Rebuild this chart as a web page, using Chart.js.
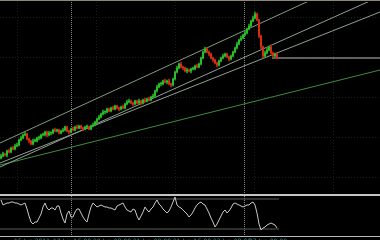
<!DOCTYPE html>
<html>
<head>
<meta charset="utf-8">
<script src="https://cdn.jsdelivr.net/npm/chart.js@4/dist/chart.umd.min.js"></script>
<style>
html,body{margin:0;padding:0;background:#000;width:380px;height:240px;overflow:hidden;}
#wrap{position:relative;width:380px;height:240px;background:#000;}
canvas{position:absolute;left:0;}
#main{top:2px;}
#ind{top:196px;}
.rule{position:absolute;left:0;width:380px;}
</style>
</head>
<body>
<div id="wrap">
  <div class="rule" style="top:0;height:1px;background:#8c8878;"></div>
  <canvas id="main" width="380" height="192"></canvas>
  <div class="rule" style="top:194px;height:2px;background:#c4c4c4;"></div>
  <canvas id="ind" width="380" height="44"></canvas>
</div>
<script>
// ---- data ----
const firstOpen = 36;
const closePrices = [
 38,40,39,43,42,46,45,48,49,54,56,59,60,55,53,50,53,53,56,56,
 59,59,62,59,61,61,64,63,64,61,63,64,67,63,62,65,64,67,66,68,
 66,65,67,67,65,68,69,72,75,77,80,82,82,85,83,86,85,88,86,85,
 87,86,90,92,93,91,90,93,91,93,91,94,93,95,94,97,98,103,107,110,
 110,113,112,113,110,109,115,122,126,130,127,126,123,124,123,125,125,128,127,130,
 136,142,145,142,140,136,134,131,129,133,136,138,140,137,135,138,142,146,150,154,
 156,159,161,165,168,173,176,180,174,158,147,138,141,144,147,141,138,140,136
];
const highPrices = [
 40,42,41,44,45,47,48,50,51,55,58,60,62,61,56,54,55,55,57,58,
 60,61,63,63,63,62,65,66,65,65,64,66,68,68,64,66,67,68,69,69,
 69,67,68,69,68,69,71,73,76,79,81,84,83,86,86,87,88,89,89,87,
 88,89,91,94,95,94,92,94,94,95,94,95,96,96,97,98,100,104,109,111,
 112,114,115,114,115,111,116,123,128,131,132,128,127,126,125,126,127,129,130,131,
 137,143,147,146,143,141,137,135,132,134,137,140,141,141,138,139,143,147,152,155,
 158,160,163,166,170,174,178,182,181,175,159,148,143,146,148,149,142,141,141
];
const lowPrices = [
 35,37,38,37,41,41,44,44,47,48,53,55,58,54,51,49,49,52,52,54,
 55,58,58,57,58,59,60,62,62,60,60,62,63,62,60,61,63,63,65,65,
 65,63,64,66,64,64,67,68,71,74,76,79,80,81,82,82,84,84,85,83,
 84,85,85,89,91,90,88,89,90,90,89,90,92,92,93,93,96,97,102,106,
 108,109,111,110,109,107,108,114,121,125,126,124,122,121,122,121,124,124,126,126,
 129,135,141,141,138,135,132,130,127,128,132,135,137,136,133,134,137,141,145,149,
 153,155,158,160,164,167,172,175,173,156,145,136,137,140,143,140,137,137,135
];
const oscValues = [
 78,68,70,72,72,74,74,72,72,70,68,70,72,60,46,34,30,34,34,42,
 50,64,72,62,58,62,62,58,66,66,52,40,32,50,56,44,44,54,60,60,
 52,44,38,34,50,64,72,68,64,66,68,66,64,64,62,62,60,58,66,68,
 70,72,64,58,56,54,60,58,46,38,46,54,64,58,54,60,64,72,78,70,
 66,60,56,52,56,64,74,84,68,64,62,58,54,50,44,48,54,62,68,72,
 74,70,68,60,52,42,34,24,30,38,46,54,58,52,56,62,70,72,70,68,
 66,64,66,68,68,72,74,68,52,30,18,22,24,28,30,32,30,28,22
];
const oscLevels = [80, 20];
const lastPrice = 136;
const trendUpper  = [[-0.5, 51], [155, 194]];
const trendMidA   = [[-0.5, 27], [185.5, 194]];
const trendMidB   = [[-0.5, 31], [189.5, 182]];
const trendLower  = [[-0.5, 29], [189.5, 124]];
const timeLabels = ['16 Jun 2011','17 Jun 16:00','20 Jun 08:00','21 Jun 00:00','21 Jun 16:00','22 Jun 08:00','23 Jun 00:00'];
const timeLabelIdx = [15.5, 35.5, 55.5, 75.5, 95.5, 115.5, 133.5];
const separatorIdx = [35, 121.5];
const gridIdx = [8, 47.5, 87, 126.5, 166];
const gridPrice = [177, 137, 97, 57, 17];

// ---- build ----
const lastIdx = closePrices.length - 1;
const openOf = i => (i === 0 ? firstOpen : closePrices[i - 1]);
const candles = closePrices.map((c, i) => ({x: i, y: [openOf(i), c]}));
const wicks = closePrices.map((c, i) => ({x: i, y: [lowPrices[i], highPrices[i]]}));
const isUp = i => closePrices[i] >= openOf(i);
const UP = '#2ec82e', DOWN = '#e03214';
const toPts = seg => seg.map(p => ({x: p[0], y: p[1]}));

const gridPlugin = {
  id: 'mtgrid',
  beforeDatasetsDraw(chart, args, opts) {
    const {ctx, chartArea: a, scales: {x, y}} = chart;
    ctx.save();
    ctx.lineWidth = 1;
    if (opts.grid) {
      ctx.strokeStyle = '#1c1c1c';
      ctx.setLineDash([1, 2]);
      gridIdx.forEach(v => {
        const px = Math.round(x.getPixelForValue(v)) + 0.5;
        ctx.beginPath(); ctx.moveTo(px, a.top); ctx.lineTo(px, a.bottom); ctx.stroke();
      });
      gridPrice.forEach(v => {
        const py = Math.round(y.getPixelForValue(v)) + 0.5;
        ctx.beginPath(); ctx.moveTo(a.left, py); ctx.lineTo(a.right, py); ctx.stroke();
      });
    }
    ctx.strokeStyle = '#858585';
    ctx.setLineDash([1, 1]);
    separatorIdx.forEach(v => {
      const px = Math.round(x.getPixelForValue(v)) + 0.5;
      ctx.beginPath(); ctx.moveTo(px, a.top); ctx.lineTo(px, a.bottom); ctx.stroke();
    });
    ctx.restore();
  }
};

const lineDs = (seg, color) => ({
  type: 'line', data: toPts(seg), borderColor: color, borderWidth: 1,
  pointRadius: 0, tension: 0, order: 5
});

new Chart(document.getElementById('main'), {
  type: 'bar',
  data: {
    datasets: [
      {
        type: 'bar', data: candles, order: 1, grouped: false,
        barThickness: 1, minBarLength: 1, borderWidth: 0,
        backgroundColor: ctx => (isUp(ctx.dataIndex) ? UP : DOWN)
      },
      {
        type: 'bar', data: wicks, order: 2, grouped: false,
        barThickness: 1, borderWidth: 0,
        backgroundColor: ctx => (isUp(ctx.dataIndex) ? '#23a023' : '#b42a14')
      },
      lineDs(trendUpper, '#7f9c7f'),
      lineDs(trendMidA, '#8fa08f'),
      lineDs(trendMidB, '#8fa08f'),
      lineDs(trendLower, '#3f8c3f'),
      {
        type: 'line', data: [{x: lastIdx - 2.5, y: lastPrice}, {x: 189.5, y: lastPrice}],
        borderColor: '#bdbdbd', borderWidth: 1, pointRadius: 0, order: 4
      }
    ]
  },
  options: {
    responsive: false, animation: false, devicePixelRatio: 1,
    layout: {padding: 0},
    plugins: {legend: {display: false}, tooltip: {enabled: false}, mtgrid: {grid: true}},
    scales: {
      x: {type: 'linear', min: -0.5, max: 189.5, offset: false, display: false},
      y: {type: 'linear', min: 0, max: 192, display: false}
    }
  },
  plugins: [gridPlugin]
});

new Chart(document.getElementById('ind'), {
  type: 'line',
  data: {
    datasets: [
      {
        data: oscValues.map((v, i) => ({x: i, y: v})),
        borderColor: '#c8c8c8', borderWidth: 1, pointRadius: 0, tension: 0, order: 1
      },
      ...oscLevels.map(l => ({
        data: [{x: -0.5, y: l}, {x: lastIdx + 1, y: l}],
        borderColor: '#5c5c5c', borderWidth: 1, pointRadius: 0, order: 3
      }))
    ]
  },
  options: {
    responsive: false, animation: false, devicePixelRatio: 1,
    layout: {padding: 0},
    plugins: {legend: {display: false}, tooltip: {enabled: false}, mtgrid: {grid: false}},
    scales: {
      x: {
        type: 'linear', min: -0.5, max: 189.5, offset: false,
        grid: {display: false, drawTicks: false},
        border: {display: true, color: '#b8b8b8', width: 1},
        ticks: {
          color: '#3f8f8f', padding: 2, maxRotation: 0, autoSkip: false,
          font: {size: 6, family: 'DejaVu Sans'},
          callback: (v) => {
            const k = timeLabelIdx.indexOf(v);
            return k >= 0 ? timeLabels[k] : '';
          }
        },
        afterBuildTicks: s => { s.ticks = timeLabelIdx.map(v => ({value: v})); },
        afterFit: s => { s.height = 4; s.paddingLeft = 0; s.paddingRight = 0; }
      },
      y: {type: 'linear', min: 6, max: 86, display: false}
    }
  },
  plugins: [gridPlugin]
});
</script>
</body>
</html>
